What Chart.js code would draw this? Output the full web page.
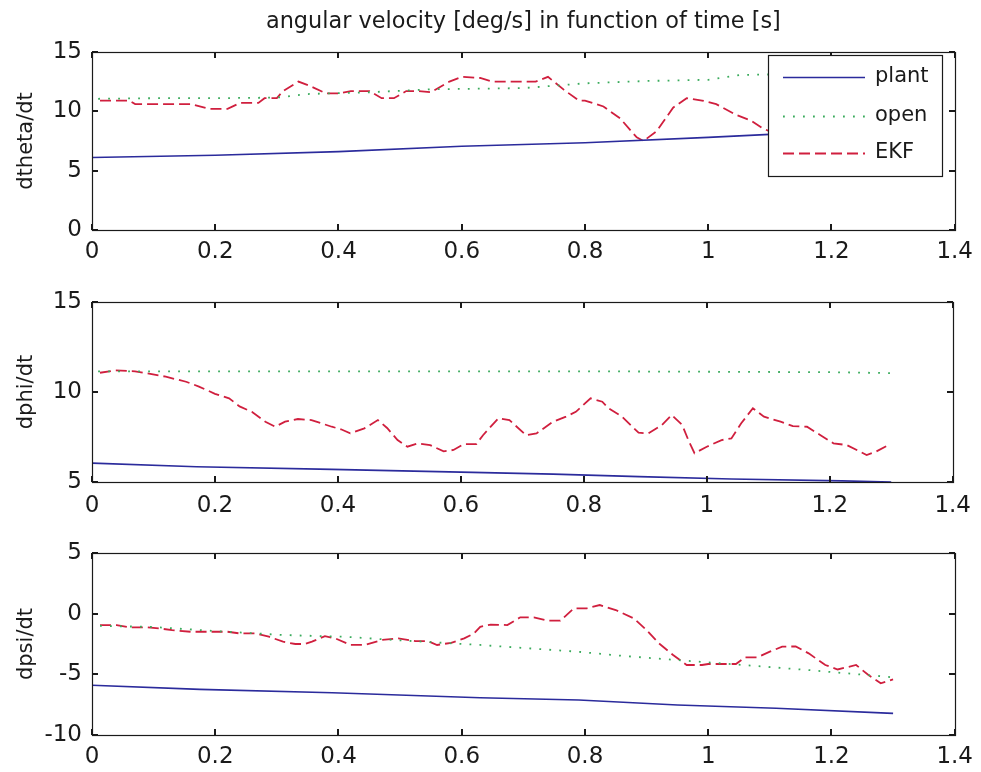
<!DOCTYPE html>
<html>
<head>
<meta charset="utf-8">
<script src="https://cdn.jsdelivr.net/npm/chart.js@4.4.0/dist/chart.umd.min.js"></script>
<style>
body { margin: 0; background: #fff; }
canvas { position: absolute; left: 0; }
</style>
</head>
<body>
<canvas id="c1" width="981" height="270" style="top:0px"></canvas>
<canvas id="c2" width="981" height="250" style="top:270px"></canvas>
<canvas id="c3" width="981" height="252" style="top:520px"></canvas>
<script>
// x axis (time [s])
const xTicks = [0, 0.2, 0.4, 0.6, 0.8, 1.0, 1.2, 1.4];
const xTickLabels = ['0', '0.2', '0.4', '0.6', '0.8', '1', '1.2', '1.4'];

// dtheta/dt
const thetaTicks = [0, 5, 10, 15];
const plantThetaT = [0, 0.2, 0.4, 0.6, 0.8, 1.0, 1.1, 1.3];
const plantTheta  = [6.1, 6.3, 6.6, 7.05, 7.35, 7.8, 8.05, 8.4];
const openThetaT = [0.01, 0.1, 0.2, 0.3, 0.35, 0.45, 0.55, 0.7, 0.8, 0.9, 1.0, 1.05, 1.1, 1.2, 1.3];
const openTheta  = [11.05, 11.1, 11.1, 11.15, 11.45, 11.6, 11.85, 11.95, 12.35, 12.55, 12.65, 13.05, 13.1, 13.2, 13.3];
const ekfThetaT = [0.013, 0.06, 0.07, 0.16, 0.19, 0.22, 0.24, 0.27, 0.28, 0.30, 0.31, 0.335, 0.355, 0.38, 0.40, 0.42, 0.45, 0.47, 0.49,
  0.51, 0.53, 0.55, 0.58, 0.60, 0.63, 0.65, 0.72, 0.74, 0.766, 0.79, 0.80, 0.83, 0.857, 0.884, 0.895, 0.916, 0.943, 0.965, 0.99,
  1.013, 1.045, 1.07, 1.087, 1.1, 1.15, 1.2, 1.25, 1.3];
const ekfTheta  = [10.9, 10.9, 10.6, 10.6, 10.2, 10.2, 10.7, 10.7, 11.1, 11.1, 11.7, 12.5, 12.1, 11.5, 11.5, 11.7, 11.7, 11.1, 11.1,
  11.7, 11.7, 11.6, 12.5, 12.9, 12.8, 12.5, 12.5, 12.9, 11.8, 10.9, 10.9, 10.4, 9.4, 7.8, 7.5, 8.3, 10.3, 11.1, 10.9,
  10.6, 9.7, 9.2, 8.6, 8.3, 8.0, 7.9, 8.1, 8.2];

// dphi/dt
const phiTicks = [5, 10, 15];
const plantPhiT = [0, 0.17, 0.39, 0.6, 0.75, 0.89, 1.04, 1.22, 1.3];
const plantPhi  = [6.05, 5.85, 5.7, 5.55, 5.44, 5.3, 5.17, 5.06, 5.0];
const openPhiT = [0.01, 0.4, 0.8, 1.2, 1.3];
const openPhi  = [11.15, 11.15, 11.15, 11.1, 11.05];
const ekfPhiT = [0.013, 0.037, 0.07, 0.088, 0.12, 0.153, 0.174, 0.2, 0.223, 0.24, 0.26, 0.282, 0.298, 0.314, 0.335, 0.357, 0.39,
  0.405, 0.42, 0.443, 0.465, 0.48, 0.497, 0.513, 0.53, 0.55, 0.572, 0.588, 0.604, 0.625, 0.636, 0.661, 0.679, 0.706, 0.723,
  0.75, 0.771, 0.787, 0.811, 0.83, 0.84, 0.862, 0.889, 0.905, 0.927, 0.943, 0.96, 0.97, 0.98, 1.0, 1.024, 1.04, 1.056, 1.075,
  1.093, 1.12, 1.14, 1.163, 1.185, 1.206, 1.228, 1.26, 1.276, 1.295];
const ekfPhi  = [11.07, 11.2, 11.15, 11.05, 10.85, 10.57, 10.3, 9.9, 9.65, 9.2, 8.9, 8.35, 8.07, 8.35, 8.5, 8.44, 8.07,
  7.93, 7.7, 7.98, 8.44, 8.0, 7.33, 6.96, 7.15, 7.05, 6.7, 6.78, 7.1, 7.1, 7.6, 8.54, 8.44, 7.6, 7.7,
  8.35, 8.63, 8.9, 9.65, 9.46, 9.1, 8.63, 7.74, 7.7, 8.17, 8.72, 8.17, 7.33, 6.6, 6.96, 7.33, 7.42, 8.26, 9.1,
  8.63, 8.35, 8.1, 8.07, 7.6, 7.15, 7.05, 6.5, 6.7, 7.05];

// dpsi/dt
const psiTicks = [-10, -5, 0, 5];
const plantPsiT = [0, 0.175, 0.39, 0.63, 0.79, 0.95, 1.11, 1.29, 1.3];
const plantPsi  = [-5.9, -6.24, -6.52, -6.93, -7.12, -7.53, -7.8, -8.2, -8.22];
const openPsiT = [0.013, 0.1, 0.19, 0.31, 0.41, 0.49, 0.63, 0.787, 0.857, 0.948, 1.056, 1.163, 1.29, 1.3];
const openPsi  = [-1.0, -1.1, -1.4, -1.76, -1.9, -2.17, -2.58, -3.13, -3.46, -3.82, -4.23, -4.65, -5.2, -5.25];
const ekfPsiT = [0.013, 0.04, 0.06, 0.09, 0.11, 0.13, 0.16, 0.22, 0.24, 0.265, 0.287, 0.31, 0.33, 0.345, 0.357, 0.378, 0.395,
  0.42, 0.443, 0.47, 0.497, 0.525, 0.545, 0.56, 0.583, 0.604, 0.62, 0.63, 0.647, 0.674, 0.695, 0.717, 0.74, 0.76, 0.782, 0.803,
  0.824, 0.85, 0.879, 0.9, 0.92, 0.943, 0.965, 0.99, 1.0, 1.045, 1.06, 1.08, 1.1, 1.12, 1.142, 1.163, 1.19, 1.21, 1.24, 1.26, 1.28, 1.3];
const ekfPsi  = [-0.94, -0.94, -1.13, -1.13, -1.22, -1.36, -1.49, -1.49, -1.63, -1.63, -1.9, -2.31, -2.5, -2.5, -2.31, -1.85, -2.04,
  -2.58, -2.58, -2.17, -2.04, -2.26, -2.26, -2.58, -2.4, -2.04, -1.63, -1.08, -0.9, -0.94, -0.3, -0.3, -0.58, -0.58, 0.44, 0.44,
  0.71, 0.3, -0.38, -1.35, -2.45, -3.41, -4.23, -4.23, -4.15, -4.15, -3.6, -3.6, -3.13, -2.72, -2.7, -3.27, -4.23, -4.6, -4.23, -5.06, -5.74, -5.42];

const FONT = 'DejaVu Sans';
const plantColor = '#2b2b9c';
const openColor = '#3aab5c';
const ekfColor = '#d01f3e';

function pts(ts, vs) { return ts.map((t, i) => ({ x: t, y: vs[i] })); }

function datasets(pT, p, oT, o, eT, e) {
  return [
    { label: 'plant', data: pts(pT, p), borderColor: plantColor, borderWidth: 1.6 },
    { label: 'open', data: pts(oT, o), borderColor: openColor, borderWidth: 1.8, borderDash: [1.8, 8.2] },
    { label: 'EKF', data: pts(eT, e), borderColor: ekfColor, borderWidth: 1.8, borderDash: [11, 5] }
  ];
}

// box around the plot with inward ticks on all four sides
const frame = {
  id: 'frame',
  afterDraw(chart) {
    const ctx = chart.ctx;
    const a = chart.chartArea;
    const x = chart.scales.x, y = chart.scales.y;
    const L = Math.round(a.left), R = Math.round(a.right), T = Math.round(a.top), B = Math.round(a.bottom);
    ctx.save();
    ctx.fillStyle = '#1a1a1a';
    xTicks.forEach(v => {
      const p = Math.round(x.getPixelForValue(v));
      ctx.fillRect(p - 1, B - 6, 2, 6);
      ctx.fillRect(p - 1, T, 2, 6);
    });
    y.ticks.forEach(t => {
      const p = Math.round(y.getPixelForValue(t.value));
      ctx.fillRect(L, p - 1, 6, 2);
      ctx.fillRect(R - 6, p - 1, 6, 2);
    });
    ctx.strokeStyle = '#1a1a1a';
    ctx.lineWidth = 1.2;
    ctx.setLineDash([]);
    ctx.strokeRect(L + 0.5, T + 0.5, R - L, B - T);
    ctx.restore();
  }
};

// MATLAB-style legend box drawn over the top plot
const boxLegend = {
  id: 'boxLegend',
  afterDraw(chart) {
    const ctx = chart.ctx;
    const L = 768, T = 55, W = 174, H = 121;
    ctx.save();
    ctx.fillStyle = '#fff';
    ctx.fillRect(L, T, W, H);
    ctx.strokeStyle = '#1a1a1a';
    ctx.lineWidth = 1.2;
    ctx.strokeRect(L + 0.5, T + 0.5, W, H);
    const rows = [77, 116, 153];
    chart.data.datasets.forEach((ds, i) => {
      ctx.beginPath();
      ctx.strokeStyle = ds.borderColor;
      ctx.lineWidth = ds.borderWidth;
      ctx.setLineDash(ds.borderDash || []);
      ctx.moveTo(783, rows[i] + 0.5);
      ctx.lineTo(865, rows[i] + 0.5);
      ctx.stroke();
      ctx.setLineDash([]);
      ctx.fillStyle = '#1a1a1a';
      ctx.font = '21px "' + FONT + '"';
      ctx.textBaseline = 'middle';
      ctx.fillText(ds.label, 875, rows[i]);
    });
    ctx.restore();
  }
};

function makeChart(id, ds, yMin, yMax, yTicks, yTitle, padTop, xHeight, xPad, withTitle) {
  const plugins = [frame];
  if (withTitle) plugins.push(boxLegend);
  return new Chart(document.getElementById(id), {
    type: 'line',
    data: { datasets: ds },
    options: {
      responsive: false,
      animation: false,
      layout: { padding: { top: padTop, right: 21, left: 0, bottom: 0 } },
      elements: { point: { radius: 0 }, line: { tension: 0 } },
      plugins: {
        legend: { display: false },
        tooltip: { enabled: false },
        title: {
          display: withTitle,
          fullSize: false,
          text: 'angular velocity [deg/s] in function of time [s]',
          color: '#1a1a1a',
          font: { family: FONT, size: 22.4, weight: 'normal' },
          padding: { top: 9, bottom: 16 }
        }
      },
      scales: {
        x: {
          type: 'linear', min: 0, max: 1.4,
          grid: { display: false, drawTicks: false },
          border: { display: false },
          afterBuildTicks: s => { s.ticks = xTicks.map(v => ({ value: v })); },
          afterFit: s => { s.height = xHeight; },
          ticks: {
            color: '#1a1a1a', padding: xPad, maxRotation: 0, autoSkip: false,
            font: { family: FONT, size: 23 },
            callback: (v, i) => xTickLabels[i]
          }
        },
        y: {
          min: yMin, max: yMax,
          grid: { display: false, drawTicks: false },
          border: { display: false },
          afterBuildTicks: s => { s.ticks = yTicks.map(v => ({ value: v })); },
          afterFit: s => { s.width = 92; },
          ticks: {
            color: '#1a1a1a', padding: 10, autoSkip: false,
            font: { family: FONT, size: 23 },
            callback: (v, i) => String(yTicks[i])
          },
          title: {
            display: true, text: yTitle, color: '#1a1a1a',
            font: { family: FONT, size: 21 },
            padding: { top: 14, bottom: 0 }
          }
        }
      }
    },
    plugins: plugins
  });
}

makeChart('c1', datasets(plantThetaT, plantTheta, openThetaT, openTheta, ekfThetaT, ekfTheta), 0, 15, thetaTicks, 'dtheta/dt', 0, 40, 8, true);
makeChart('c2', datasets(plantPhiT, plantPhi, openPhiT, openPhi, ekfPhiT, ekfPhi), 5, 15, phiTicks, 'dphi/dt', 32, 38, 10, false);
makeChart('c3', datasets(plantPsiT, plantPsi, openPsiT, openPsi, ekfPsiT, ekfPsi), -10, 5, psiTicks, 'dpsi/dt', 33, 37, 8, false);
</script>
</body>
</html>
